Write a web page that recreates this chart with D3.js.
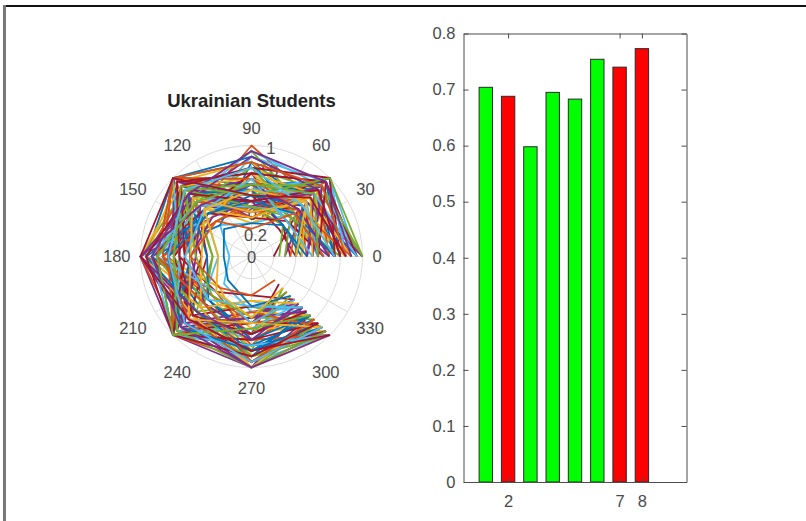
<!DOCTYPE html>
<html>
<head>
<meta charset="utf-8">
<script src="https://cdn.jsdelivr.net/npm/d3@7"></script>
<style>
body { margin: 0; background: #fff; }
svg { display: block; font-family: "Liberation Sans", Arial, Helvetica, sans-serif; }
</style>
</head>
<body>
<svg id="fig" width="806" height="521"></svg>
<script>
// polar data: one row per student, one value per item (angle)
const thetaDeg = [0, 45, 90, 135, 180, 225, 270, 315];
const students = [
	[0.85,1.00,0.55,1.00,0.70,1.00,0.80,0.95],
	[1.00,0.75,1.00,0.65,1.00,0.85,1.00,0.80],
	[0.55,0.90,0.40,1.00,0.95,0.60,0.90,1.00],
	[0.70,0.45,0.75,0.50,1.00,1.00,0.55,0.70],
	[0.40,0.85,0.65,0.90,0.45,0.75,1.00,0.85],
	[0.60,0.55,0.30,0.40,0.20,0.35,0.50,0.65],
	[0.20,0.60,0.45,0.80,0.55,0.90,0.70,0.35],
	[0.95,0.70,0.85,1.00,0.80,0.65,0.95,0.90],
	[0.75,1.00,0.50,0.70,1.00,0.95,0.60,0.75],
	[0.45,0.65,0.70,0.55,0.90,0.50,0.85,1.00],
	[0.90,0.80,0.35,1.00,0.60,1.00,1.00,0.65],
	[0.65,0.50,0.60,0.75,0.35,0.70,0.45,0.90],
	[0.80,0.95,0.90,0.60,1.00,0.80,0.75,1.00],
	[0.35,0.40,0.55,0.85,0.65,0.45,0.35,0.55],
	[1.00,0.85,0.65,1.00,0.85,1.00,0.90,0.85],
	[0.60,0.75,0.45,0.45,0.75,0.55,0.80,0.60],
	[0.85,0.55,0.80,0.90,0.50,0.90,0.65,0.95],
	[0.50,0.90,0.40,0.65,1.00,0.75,1.00,0.75],
	[0.70,0.65,0.95,0.80,0.70,1.00,0.55,0.80],
	[0.95,1.00,0.60,0.55,0.85,0.60,0.95,1.00],
	[0.40,0.35,0.50,0.70,0.40,0.80,0.60,0.45],
	[0.75,0.80,0.70,1.00,0.95,0.85,0.85,0.90],
	[0.60,0.95,0.35,0.75,0.60,1.00,0.75,0.70],
	[0.85,0.60,0.75,0.50,0.80,0.40,0.90,0.95],
	[0.30,0.70,0.55,0.95,0.55,0.85,0.50,0.60],
	[1.00,0.85,0.80,0.85,1.00,0.70,1.00,0.85],
	[0.55,0.45,0.65,0.60,0.30,0.65,0.40,0.75],
	[0.80,1.00,0.45,0.90,0.75,0.95,0.80,1.00],
	[0.65,0.55,0.85,0.40,0.90,0.55,0.70,0.65],
	[0.90,0.75,0.60,1.00,0.65,1.00,0.95,0.80],
	[0.45,0.85,0.30,0.65,0.85,0.50,0.65,0.90],
	[0.75,0.50,0.70,0.80,0.50,0.90,0.55,0.55],
	[0.25,0.40,0.45,0.55,0.70,0.60,0.85,0.40],
	[0.95,0.90,0.95,0.75,1.00,0.80,1.00,0.95],
	[0.60,0.65,0.50,1.00,0.45,0.95,0.60,0.85],
	[0.80,0.95,0.65,0.60,0.80,0.70,0.90,0.70],
	[0.50,0.60,0.40,0.85,0.95,0.45,0.75,1.00],
	[0.70,0.80,0.75,0.50,0.60,1.00,0.50,0.75],
	[1.00,0.70,0.55,0.95,0.75,0.85,0.95,0.90],
	[0.40,0.55,0.80,0.70,0.35,0.60,0.70,0.50],
	[0.85,1.00,0.60,0.80,0.90,0.90,0.85,0.95],
	[0.65,0.45,0.35,0.55,0.70,0.75,0.45,0.65],
	[0.75,0.85,0.90,1.00,0.55,1.00,0.80,0.80],
	[0.35,0.60,0.50,0.45,0.80,0.50,0.60,0.55],
	[0.90,0.75,0.70,0.90,1.00,0.65,1.00,1.00],
	[0.55,0.90,0.45,0.65,0.50,0.85,0.55,0.70],
	[0.80,0.50,0.65,0.75,0.85,0.70,0.90,0.85],
	[0.60,0.70,0.55,1.00,0.65,0.95,0.65,0.60],
	[0.95,0.95,0.75,0.60,0.90,0.80,0.85,0.95],
	[0.45,0.40,0.60,0.80,0.40,0.55,0.75,0.75],
	[0.70,0.85,0.40,0.70,0.75,1.00,0.50,0.90],
	[0.85,0.65,0.85,0.95,0.95,0.75,1.00,0.80],
	[0.50,0.80,0.50,0.50,0.55,0.60,0.70,0.65],
	[1.00,0.90,0.65,0.85,0.70,0.90,0.90,1.00],
	[0.65,0.55,0.45,0.65,0.85,0.45,0.60,0.55],
	[0.75,1.00,0.80,0.90,0.60,1.00,0.75,0.85],
	[0.40,0.65,0.55,0.55,0.95,0.70,0.85,0.75],
	[0.90,0.60,0.70,1.00,0.80,0.80,0.95,0.90],
	[0.55,0.75,0.35,0.60,0.45,0.65,0.40,0.60],
	[0.80,0.85,0.90,0.75,1.00,0.85,1.00,0.95],
	[0.30,0.50,0.45,0.85,0.50,0.50,0.55,0.45],
	[0.95,0.80,0.60,0.70,0.90,1.00,0.80,1.00],
	[0.60,0.95,0.75,0.95,0.65,0.75,0.70,0.70],
	[0.75,0.55,0.50,0.55,0.75,0.90,0.85,0.85],
	[0.85,0.90,0.85,1.00,0.85,0.60,0.95,0.80],
	[0.45,0.70,0.40,0.75,0.55,0.80,0.60,0.90],
	[0.70,0.60,0.65,0.65,1.00,0.70,0.75,0.60],
	[1.00,1.00,0.55,0.90,0.70,0.95,1.00,0.95],
	[0.55,0.45,0.70,0.60,0.60,0.55,0.45,0.65],
	[0.80,0.85,0.50,0.80,0.95,1.00,0.90,0.85],
	[0.50,0.40,0.30,0.35,0.25,0.30,0.45,0.50],
	[0.65,0.55,0.25,0.45,0.55,0.40,0.35,0.30],
	[0.40,0.70,0.60,0.60,0.30,0.45,0.55,0.40],
	[0.90,0.95,0.95,0.80,0.90,0.90,1.00,1.00],
	[0.60,0.80,0.65,0.70,0.85,1.00,0.65,0.75],
	[0.75,0.65,0.80,0.85,0.75,0.85,0.95,0.90],
	[0.85,0.75,0.55,1.00,1.00,0.80,0.85,1.00]
];
const lineColors = ["#0072BD", "#D95319", "#EDB120", "#7E2F8E", "#77AC30", "#4DBEEE", "#A2142F"];
const rTicks = [0, 0.2, 0.4, 0.6, 0.8, 1];
const thetaTicks = [0, 30, 60, 90, 120, 150, 180, 210, 240, 270, 300, 330];

// bar data
const barItems = [1, 2, 3, 4, 5, 6, 7, 8];
const barValues = [0.704, 0.688, 0.598, 0.695, 0.683, 0.754, 0.740, 0.773];
const barColors = ["#00ff00", "#ff0000", "#00ff00", "#00ff00", "#00ff00", "#00ff00", "#ff0000", "#ff0000"];
const yTicks = [0, 0.1, 0.2, 0.3, 0.4, 0.5, 0.6, 0.7, 0.8];
const xTicks = [2, 7, 8];

const ctx = { cx: 251.5, cy: 256.5, R: 111, fs: 16.5, axisColor: "#4d4d4d", textColor: "#4a4a4a" };
const svg = d3.select("#fig");
svg.append("rect").attr("width", 806).attr("height", 521).attr("fill", "white");

// figure frame edges
svg.append("rect").attr("x", 3).attr("y", 5).attr("width", 803).attr("height", 2).attr("fill", "#111");
svg.append("rect").attr("x", 3).attr("y", 5).attr("width", 3).attr("height", 516).attr("fill", "#777");

// ---- polar plot ----
const rad = (d) => (d * Math.PI) / 180;
const rscale = d3.scaleLinear().domain([0, 1]).range([0, ctx.R]);
const polar = svg.append("g").attr("transform", `translate(${ctx.cx},${ctx.cy})`);

polar.selectAll(".ring")
	.data(rTicks.filter((d) => d > 0))
	.join("circle")
	.attr("class", "ring")
	.attr("r", (d) => rscale(d))
	.attr("fill", "none")
	.attr("stroke", "#dcdcdc");
polar.selectAll(".spoke")
	.data(thetaTicks)
	.join("line")
	.attr("class", "spoke")
	.attr("x2", (d) => rscale(1) * Math.cos(rad(d)))
	.attr("y2", (d) => -rscale(1) * Math.sin(rad(d)))
	.attr("stroke", "#dcdcdc");

// radial tick labels along 80 degrees
polar.selectAll(".rlabel")
	.data(rTicks)
	.join("text")
	.attr("class", "rlabel")
	.attr("x", (d) => rscale(d) * Math.cos(rad(80)))
	.attr("y", (d) => -rscale(d) * Math.sin(rad(80)) + 1)
	.attr("dy", "0.35em")
	.attr("text-anchor", "middle")
	.attr("font-size", ctx.fs)
	.attr("fill", ctx.textColor)
	.text((d) => String(d));

// student lines
const radial = d3.lineRadial()
	.angle((d, i) => rad(90 - thetaDeg[i]))
	.radius((d) => rscale(d));
polar.selectAll(".student")
	.data(students)
	.join("path")
	.attr("class", "student")
	.attr("d", radial)
	.attr("fill", "none")
	.attr("stroke", (d, i) => lineColors[i % lineColors.length])
	.attr("stroke-width", 1.8)
	.attr("stroke-linejoin", "round");

// angle labels outside the circle
polar.selectAll(".tlabel")
	.data(thetaTicks)
	.join("text")
	.attr("class", "tlabel")
	.attr("text-anchor", "middle")
	.attr("dy", "0.35em")
	.attr("font-size", ctx.fs)
	.attr("fill", ctx.textColor)
	.text((d) => d)
	.each(function (d) {
		const w = this.getComputedTextLength();
		const c = Math.cos(rad(d)), s = Math.sin(rad(d));
		const hx = Math.abs(c) < 0.01 ? 0 : Math.sign(c) * w / 2;
		let hy = Math.abs(s) < 0.01 ? 0 : Math.sign(s) * 7;
		if (s < -0.01) hy -= 4;
		d3.select(this)
			.attr("x", (ctx.R + 10) * c + hx)
			.attr("y", -(ctx.R + 10) * s - hy);
	});

svg.append("text")
	.attr("x", ctx.cx)
	.attr("y", 107)
	.attr("text-anchor", "middle")
	.attr("font-size", 18.5)
	.attr("font-weight", "bold")
	.attr("fill", "#222")
	.text("Ukrainian Students");

// ---- bar chart ----
const bx = { left: 463.5, right: 686.5, top: 33.5, bottom: 482 };
const xscale = d3.scaleLinear().domain([0, 10]).range([bx.left, bx.right]);
const yscale = d3.scaleLinear().domain([0, 0.8]).range([bx.bottom, bx.top]);
const bars = svg.append("g");
bars.selectAll("rect")
	.data(barValues)
	.join("rect")
	.attr("x", (d, i) => xscale(barItems[i] - 0.3))
	.attr("width", (d, i) => xscale(barItems[i] + 0.3) - xscale(barItems[i] - 0.3))
	.attr("y", (d) => yscale(d))
	.attr("height", (d) => yscale(0) - yscale(d))
	.attr("fill", (d, i) => barColors[i])
	.attr("stroke", "#2a2a2a")
	.attr("stroke-width", 1);

const fmt = (d) => (d === 0 ? "0" : d.toFixed(1));
function styleAxis(g) {
	g.selectAll("path, line").attr("stroke", ctx.axisColor);
	g.selectAll("text").attr("fill", ctx.textColor).attr("font-size", ctx.fs).attr("font-family", null);
}
svg.append("g")
	.attr("transform", `translate(${bx.left},0)`)
	.call(d3.axisLeft(yscale).tickValues(yTicks).tickFormat(fmt).tickSizeInner(-5).tickSizeOuter(0).tickPadding(8))
	.call(styleAxis);
svg.append("g")
	.attr("transform", `translate(${bx.right},0)`)
	.call(d3.axisRight(yscale).tickValues(yTicks).tickFormat("").tickSizeInner(-5).tickSizeOuter(0))
	.call(styleAxis);
svg.append("g")
	.attr("transform", `translate(0,${bx.bottom})`)
	.call(d3.axisBottom(xscale).tickValues(xTicks).tickSizeInner(-5).tickSizeOuter(0).tickPadding(13))
	.call(styleAxis);
svg.append("g")
	.attr("transform", `translate(0,${bx.top})`)
	.call(d3.axisTop(xscale).tickValues(xTicks).tickFormat("").tickSizeInner(-5).tickSizeOuter(0))
	.call(styleAxis);
</script>
</body>
</html>
